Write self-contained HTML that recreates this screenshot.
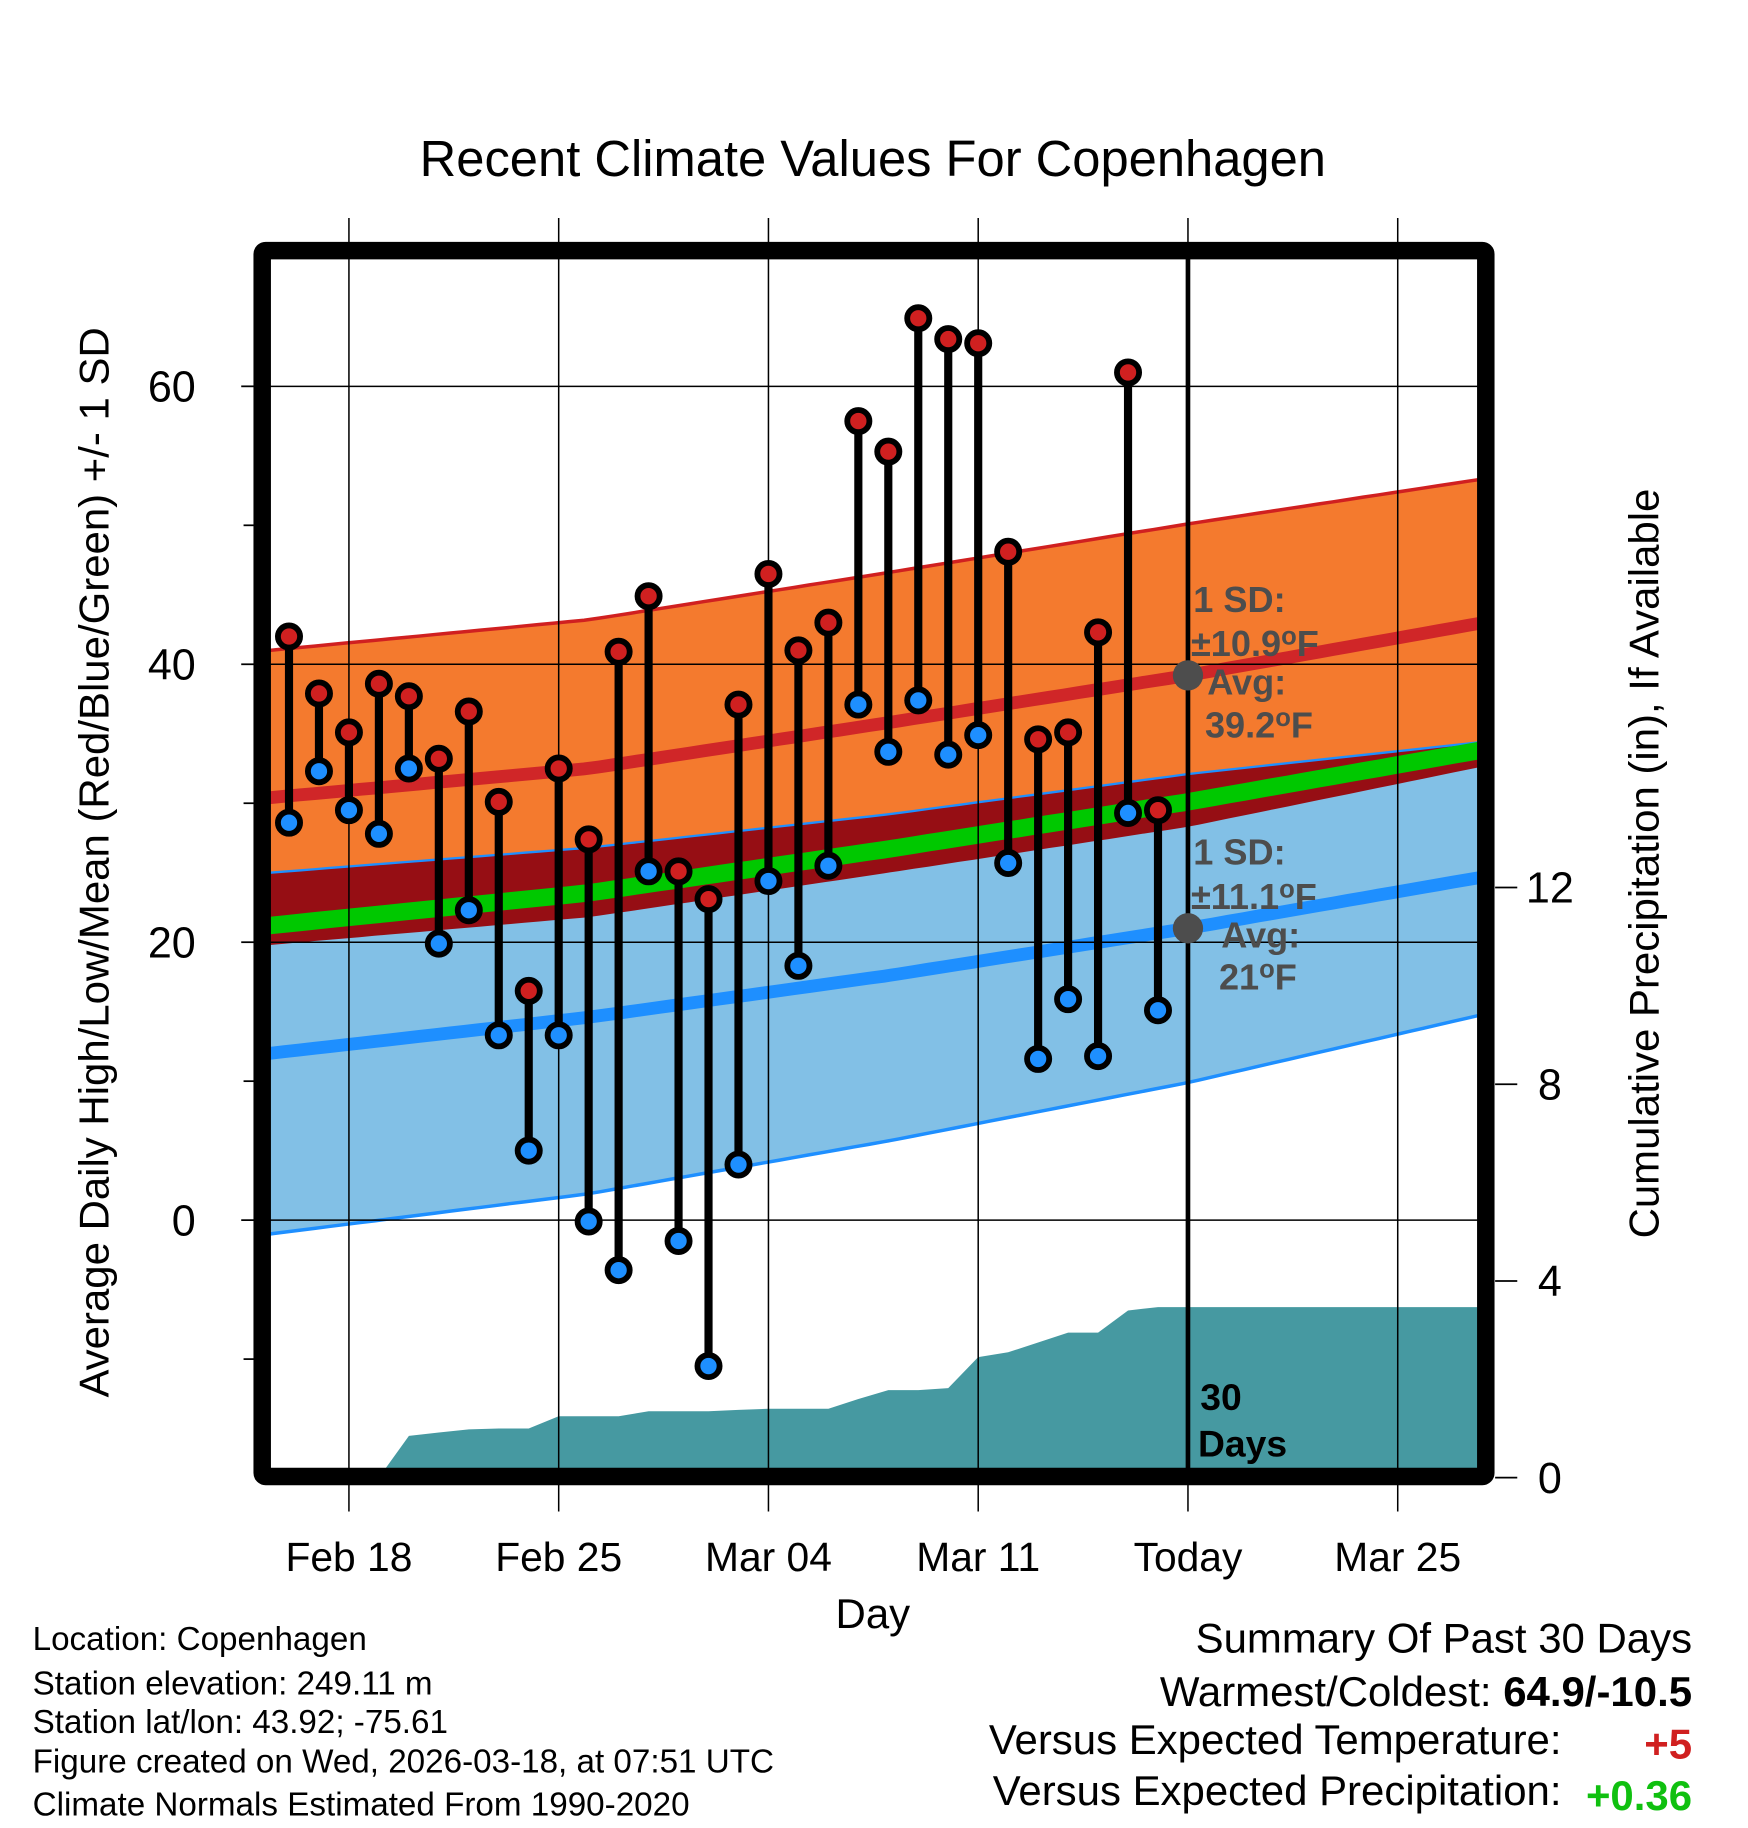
<!DOCTYPE html>
<html><head><meta charset="utf-8"><style>
html,body{margin:0;padding:0;background:#fff}
svg{display:block}
text{font-family:"Liberation Sans",Arial,sans-serif}
</style></head><body>
<svg id="chart" width="1748" height="1828" viewBox="0 0 1500 1568.6" xmlns="http://www.w3.org/2000/svg">
<rect width="1500" height="1568.6" fill="#fff"/>
<text x="749" y="151" font-size="43.5" text-anchor="middle">Recent Climate Values For Copenhagen</text>
<g id="plot"></g>
<text transform="translate(93,740) rotate(-90)" font-size="36" text-anchor="middle">Average Daily High/Low/Mean (Red/Blue/Green) +/- 1 SD</text>
<text transform="translate(1423,741) rotate(-90)" font-size="36" text-anchor="middle">Cumulative Precipitation (in), If Available</text>
<text x="749" y="1397" font-size="36" text-anchor="middle">Day</text>
<g font-size="28.5">
<text x="28" y="1416">Location: Copenhagen</text>
<text x="28" y="1454">Station elevation: 249.11 m</text>
<text x="28" y="1487">Station lat/lon: 43.92; -75.61</text>
<text x="28" y="1521">Figure created on Wed, 2026-03-18, at 07:51 UTC</text>
<text x="28" y="1558">Climate Normals Estimated From 1990-2020</text>
</g>
<g font-size="36" text-anchor="end">
<text x="1452" y="1418">Summary Of Past 30 Days</text>
<text x="1452" y="1464">Warmest/Coldest: <tspan font-weight="bold">64.9/-10.5</tspan></text>
<text x="1340" y="1505">Versus Expected Temperature:</text>
<text x="1452" y="1509" fill="#d02020" font-weight="bold">+5</text>
<text x="1340" y="1549">Versus Expected Precipitation:</text>
<text x="1452" y="1553" fill="#10c010" font-weight="bold">+0.36</text>
</g>
</svg>
<script>
const highs=[42.0,37.9,35.1,38.6,37.7,33.2,36.6,30.1,16.5,32.5,27.4,40.9,44.9,25.1,23.1,37.1,46.5,41.0,43.0,57.5,55.3,64.9,63.4,63.1,48.1,34.6,35.1,42.3,61.0,29.5];
const lows=[28.6,32.3,29.5,27.8,32.5,19.9,22.3,13.3,5.0,13.3,-0.1,-3.6,25.1,-1.5,-10.5,4.0,24.4,18.3,25.5,37.1,33.7,37.4,33.5,34.9,25.7,11.6,15.9,11.8,29.3,15.1];
const precip=[0,0,0,0,0.85,0.92,0.98,1.0,1.0,1.25,1.25,1.25,1.35,1.35,1.35,1.38,1.4,1.4,1.4,1.6,1.78,1.78,1.82,2.45,2.55,2.75,2.95,2.95,3.4,3.47];
const normDays=[-0.65,10,20,30,40.65];
const normHigh=[30.4,32.5,35.8,39.2,43.3];
const normHighSD=[10.6,10.7,10.8,10.9,10.3];
const normLow=[12.0,14.6,17.6,21.0,25.0];
const normLowSDup=[13.0,12.2,11.6,11.1,9.6];
const normLowSDdn=[13.0,12.7,11.9,11.1,9.8];
const xTickDays=[2,9,16,23,30,37];
const xTickLabels=["Feb 18","Feb 25","Mar 04","Mar 11","Today","Mar 25"];
const yTicks=[0,20,40,60];
const yMinor=[-10,10,30,50];
const pTicks=[0,4,8,12];

const NS="http://www.w3.org/2000/svg";
const g=document.getElementById('plot');
const X=d=>248+d*25.714;
const Y=v=>1047-v*11.925;
const P=v=>1268-v*42.2;
const L=232,R=1268,T=222,B=1260;
function el(tag,attrs,parent){const e=document.createElementNS(NS,tag);for(const k in attrs)e.setAttribute(k,attrs[k]);(parent||g).appendChild(e);return e;}
function interp(arr,d){for(let i=0;i<normDays.length-1;i++){if(d<=normDays[i+1]||i==normDays.length-2){const t=(d-normDays[i])/(normDays[i+1]-normDays[i]);return arr[i]+(arr[i+1]-arr[i])*t;}}}
const samp=[];for(let d=normDays[0];d<=normDays[normDays.length-1]+0.001;d+=0.5)samp.push(d);
samp.push(normDays[normDays.length-1]);
function line(f){return samp.map((d,i)=>(i?'L':'M')+X(d).toFixed(1)+','+Y(f(d)).toFixed(1)).join(' ');}
function band(f1,f2){return samp.map((d,i)=>(i?'L':'M')+X(d).toFixed(1)+','+Y(f1(d)).toFixed(1)).join(' ')+' '+samp.slice().reverse().map(d=>'L'+X(d).toFixed(1)+','+Y(f2(d)).toFixed(1)).join(' ')+'Z';}
const hUp=d=>interp(normHigh,d)+interp(normHighSD,d);
const hDn=d=>interp(normHigh,d)-interp(normHighSD,d);
const lUp=d=>interp(normLow,d)+interp(normLowSDup,d);
const lDn=d=>interp(normLow,d)-interp(normLowSDdn,d);
const mean=d=>(interp(normHigh,d)+interp(normLow,d))/2;

const clip=el('clipPath',{id:'pc'});el('rect',{x:L,y:T,width:R-L,height:B-T},clip);
const inner=el('g',{'clip-path':'url(#pc)'});
let e;
e=el('path',{d:band(hUp,hDn),fill:'#f47a2e'},inner);


e=el('path',{d:band(lUp,lDn),fill:'#82c0e6'},inner);


e=el('path',{d:band(lUp,d=>Math.min(hDn(d),lUp(d))),fill:'#960e14'},inner);


el('path',{d:line(hUp),fill:'none',stroke:'#d02020','stroke-width':3},inner);
el('path',{d:line(lUp),fill:'none',stroke:'#1e8fff','stroke-width':2},inner);
el('path',{d:line(lDn),fill:'none',stroke:'#1e8fff','stroke-width':3},inner);
e=el('path',{d:line(mean),fill:'none',stroke:'#00c800','stroke-width':15},inner);


e=el('path',{d:line(d=>interp(normHigh,d)),fill:'none',stroke:'#d02628','stroke-width':11},inner);


e=el('path',{d:line(d=>interp(normLow,d)),fill:'none',stroke:'#1e8fff','stroke-width':11},inner);


let pd='M'+L+','+B+' L'+L+','+P(precip[0]);
precip.forEach((v,i)=>{pd+=' L'+X(i).toFixed(1)+','+P(v).toFixed(1);});
pd+=' L'+R+','+P(precip[precip.length-1]).toFixed(1)+' L'+R+','+B+'Z';
e=el('path',{d:pd,fill:'#4699a1'},inner);


yTicks.forEach(v=>{el('line',{x1:L,x2:R,y1:Y(v),y2:Y(v),stroke:'#000','stroke-width':1.3},inner);});
xTickDays.forEach(d=>{el('line',{x1:X(d),x2:X(d),y1:187,y2:1297,stroke:'#000','stroke-width':1.3});});
e=el('line',{x1:X(30),x2:X(30),y1:T,y2:B,stroke:'#000','stroke-width':4});


highs.forEach((h,i)=>{
  e=el('line',{x1:X(i),x2:X(i),y1:Y(h),y2:Y(lows[i]),stroke:'#000','stroke-width':7});
  
  
});
highs.forEach((h,i)=>{
  e=el('circle',{cx:X(i),cy:Y(h),r:9.5,fill:'#d02020',stroke:'#000','stroke-width':5});
  
  
  e=el('circle',{cx:X(i),cy:Y(lows[i]),r:9.5,fill:'#1e8fff',stroke:'#000','stroke-width':5});
  
  
});
el('circle',{cx:X(30),cy:Y(39.2),r:13,fill:'#4d4d4d'});
el('circle',{cx:X(30),cy:Y(21),r:13,fill:'#4d4d4d'});
const ann=el('g',{fill:'#4d4d4d','font-size':31,'font-weight':'bold'});


[['1 SD:',1024,525,''],['±10.9',1022,563,'F'],['Avg:',1036,596,''],['39.2',1034,633,'F'],['1 SD:',1024,742,''],['±11.1',1022,780,'F'],['Avg:',1048,813,''],['21',1046,849,'F']].forEach(a=>{
  const t=el('text',{x:a[1],y:a[2]},ann);t.textContent=a[0];
  if(a[3]){const s=el('tspan',{'font-size':22,dy:-10},t);s.textContent='o';const f=el('tspan',{dy:10},t);f.textContent='F';}
});
const d30=el('g',{'font-size':32,'font-weight':'bold'});


el('text',{x:1030,y:1210},d30).textContent='30';
el('text',{x:1028,y:1250},d30).textContent='Days';
e=el('rect',{x:225,y:215,width:1050,height:1052,fill:'none',stroke:'#000','stroke-width':15,rx:3});


yTicks.forEach(v=>{el('line',{x1:207,x2:218,y1:Y(v),y2:Y(v),stroke:'#000','stroke-width':1.5});const t=el('text',{x:168,y:Y(v)+13,'font-size':37,'text-anchor':'end'});t.textContent=v;});
yMinor.forEach(v=>{el('line',{x1:209,x2:218,y1:Y(v),y2:Y(v),stroke:'#000','stroke-width':1.5});});
pTicks.forEach(v=>{const y=P(v);el('line',{x1:1283,x2:1302,y1:y,y2:y,stroke:'#000','stroke-width':1.5});const t=el('text',{x:1330,y:y+13,'font-size':37,'text-anchor':'middle'});t.textContent=v;});
xTickDays.forEach((d,i)=>{const t=el('text',{x:X(d),y:1348,'font-size':35,'text-anchor':'middle'});t.textContent=xTickLabels[i];});
</script>
</body></html>
